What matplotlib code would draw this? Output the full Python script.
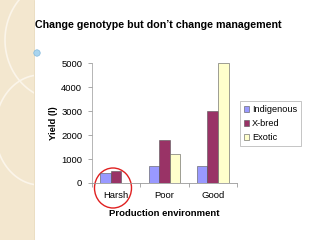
import matplotlib
matplotlib.use('Agg')
import matplotlib.pyplot as plt
import numpy as np
from matplotlib.patches import Ellipse, Circle

# data
environments = ['Harsh', 'Poor', 'Good']
indigenous = [400, 700, 700]
xbred = [500, 1800, 3000]
exotic = [0, 1200, 5000]

fig = plt.figure(figsize=(3.2, 2.4), dpi=100)
fig.patch.set_facecolor('white')

# decorative strip on the left
strip = fig.add_axes([0, 0, 34 / 320, 1])
strip.set_xlim(0, 34)
strip.set_ylim(240, 0)
strip.set_facecolor('#F3E7CF')
strip.set_xticks([])
strip.set_yticks([])
for s in strip.spines.values():
    s.set_visible(False)
strip.spines['right'].set_visible(True)
strip.spines['right'].set_color('#E8D8B8')
strip.spines['right'].set_linewidth(0.6)
t = np.linspace(0, 2 * np.pi, 200)
strip.plot(60 + 55 * np.cos(t), 40 + 60 * np.sin(t), color='#FBF5EA', lw=1.2)
strip.plot(40 + 45 * np.cos(t), 130 + 55 * np.sin(t), color='#FBF5EA', lw=1.2)

bg = fig.add_axes([0, 0, 1, 1])
bg.set_xlim(0, 320)
bg.set_ylim(240, 0)
bg.axis('off')
bg.add_patch(Circle((37, 53), 3.2, color='#A8D4EE', ec='#7FB8DC', lw=0.5))

fig.text(0.11, 0.897, "Change genotype but don\u2019t change management",
         fontsize=7.7, fontweight='bold', ha='left', va='center', family='Liberation Sans')

ax = fig.add_axes([0.2875, 0.2375, 0.453, 0.498])
ax.patch.set_alpha(0)
x = np.arange(len(environments))
w = 0.22
ax.bar(x - w, indigenous, w, color='#9999FF', edgecolor='#555555', lw=0.4, label='Indigenous')
ax.bar(x, xbred, w, color='#993366', edgecolor='#555555', lw=0.4, label='X-bred')
ax.bar(x + w, exotic, w, color='#FFFFCC', edgecolor='#555555', lw=0.4, label='Exotic')

ax.set_xlim(-0.5, 2.5)
ax.set_ylim(0, 5000)
ax.set_yticks([0, 1000, 2000, 3000, 4000, 5000])
ax.set_xticks(x)
ax.set_xticklabels(environments, family='Liberation Sans', fontsize=6.8)
for lab in ax.get_yticklabels():
    lab.set_family('Liberation Sans')
    lab.set_fontsize(6.8)
ax.tick_params(axis='y', length=3, width=0.5, color='#888888', pad=4)
ax.tick_params(axis='x', length=0, pad=6)
ax.set_xticks([-0.5, 0.5, 1.5, 2.5], minor=True)
ax.tick_params(axis='x', which='minor', length=3, width=0.5, color='#888888')
for s in ['top', 'right']:
    ax.spines[s].set_visible(False)
ax.spines['left'].set_color('#999999')
ax.spines['left'].set_linewidth(0.5)
ax.spines['bottom'].set_color('#999999')
ax.spines['bottom'].set_linewidth(0.6)
ax.set_ylabel('Yield (l)', fontsize=6.8, fontweight='bold', family='Liberation Sans', labelpad=2)
ax.set_xlabel('Production environment', fontsize=6.8, fontweight='bold', family='Liberation Sans', labelpad=6)

leg = ax.legend(loc='upper left', bbox_to_anchor=(1.01, 0.70), frameon=True, fancybox=False,
                prop={'family': 'Liberation Sans', 'size': 6.6}, handlelength=0.6, handleheight=0.6,
                handletextpad=0.3, borderpad=0.4, labelspacing=0.55, borderaxespad=0.2)
leg.get_frame().set_edgecolor('#999999')
leg.get_frame().set_linewidth(0.5)

# red circle around Harsh
bg.add_patch(Ellipse((113, 188), 37, 40, fill=False, ec='#E02020', lw=1.0))

fig.savefig('out.png', dpi=100)
